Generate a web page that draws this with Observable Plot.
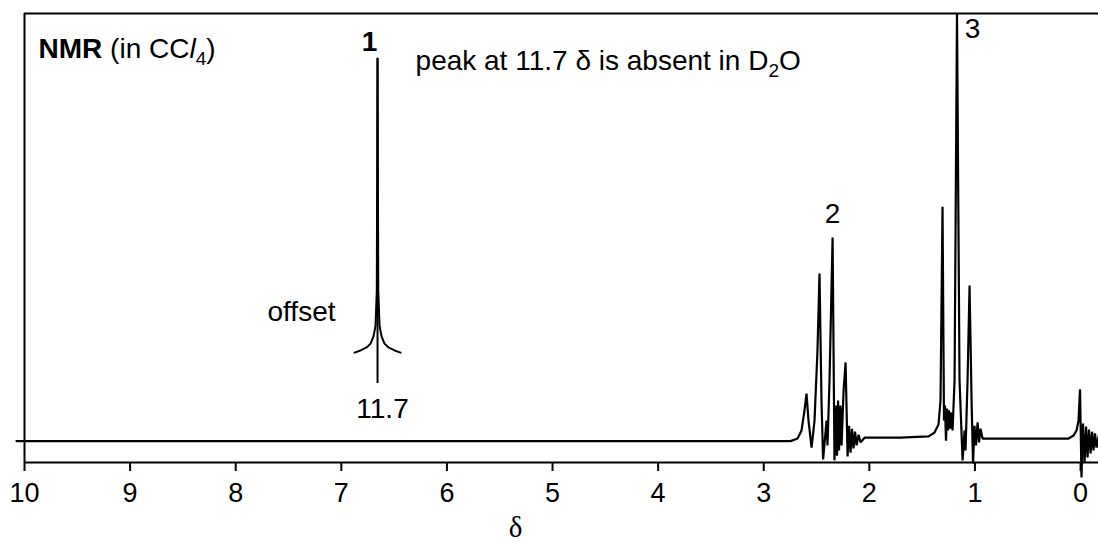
<!DOCTYPE html>
<html><head><meta charset="utf-8">
<script src="https://cdn.jsdelivr.net/npm/d3@7"></script>
<script src="https://cdn.jsdelivr.net/npm/@observablehq/plot@0.6"></script>
<style>body{margin:0;background:#fff}</style>
</head><body><div id="chart"></div>
<script>
// Chemical shift (ppm) and intensity (arbitrary units, baseline = 0, frame top = 100)
const shiftPpm = [10.076,2.746,2.680,2.642,2.614,2.595,2.576,2.547,2.519,2.491,2.472,2.453,2.438,2.405,2.396,2.377,2.348,2.330,2.315,2.306,2.296,2.287,2.273,2.263,2.244,2.225,2.206,2.192,2.178,2.164,2.150,2.135,2.121,2.102,2.083,2.045,1.705,1.439,1.383,1.345,1.326,1.307,1.293,1.284,1.274,1.265,1.255,1.246,1.236,1.227,1.212,1.193,1.170,1.146,1.117,1.098,1.089,1.070,1.051,1.032,1.018,1.004,0.990,0.975,0.961,0.947,0.928,0.758,0.114,0.066,0.038,0.019,0.005,-0.009,-0.023,-0.038,-0.052,-0.066,-0.080,-0.095,-0.109,-0.123,-0.137,-0.151,-0.170];
const intensity = [0,0,0.6,2.5,7.2,11.1,4.8,-1.5,4.8,21.2,39.2,9.5,-4.3,4.8,-1.0,14.2,47.6,-4.5,8.3,-3.4,9.5,-2.2,8.3,-1.0,11.8,18.4,-3.6,3.6,-2.7,2.9,-1.7,2.2,-1.0,1.5,-0.3,0.8,0.8,1.1,2.0,3.9,9.5,54.8,4.8,8.3,0.1,7.6,2.5,7.2,2.9,6.7,2.5,14.2,100,14.2,-4.5,2.5,-2.2,14.2,36.4,9.5,-5.2,3.6,-1.0,4.4,-0.3,2.9,0.6,0.6,0.6,1.3,2.5,4.8,12.1,-8.5,4.1,-5.0,3.4,-3.8,2.7,-2.9,2.2,-2.2,1.8,-1.5,1.1];
// Offset COOH peak (true shift 11.7, drawn offset)
const offsetPpm = [6.875,6.818,6.761,6.723,6.695,6.676,6.664,6.657,6.650,6.638,6.619,6.591,6.553,6.496,6.439];
const offsetIntensity = [20.7,21.2,21.9,22.8,24.5,27.0,35.2,89.5,35.2,27.0,24.5,22.8,21.9,21.2,20.7];
const offsetStem = {ppm: 6.657, low: 13.5, high: 89.5};
const tickValues = [10,9,8,7,6,5,4,3,2,1,0];
const axisLabel = "δ";

const spectrum = shiftPpm.map((d, i) => ({d, v: intensity[i]}));
const offsetPeak = offsetPpm.map((d, i) => ({d, v: offsetIntensity[i]}));

const sans = "'Liberation Sans', Arial, Helvetica, sans-serif";
const startLabels = [
  {text: "NMR (in CCl4)", x: 9.867, y: 89.6},
  {text: "peak at 11.7 δ is absent in D2O", x: 6.297, y: 86.9}
];
const peakNumbers = [
  {text: "1", x: 6.733, y: 91.3, bold: true},
  {text: "2", x: 2.348, y: 51.1, bold: false},
  {text: "3", x: 1.023, y: 94.2, bold: false}
];
const middleLabels = [{text: "11.7", x: 6.61, y: 5.3}];
const endLabels = [{text: "offset", x: 7.055, y: 28.2}];

const txt = {x: "x", y: "y", text: "text", fontSize: 28, lineAnchor: "bottom", fill: "black"};

const chart = Plot.plot({
  width: 1098, height: 543,
  marginLeft: 24, marginRight: 0, marginTop: 13, marginBottom: 81,
  style: {fontFamily: sans, background: "white", color: "black", overflow: "visible"},
  x: {domain: [10, -0.17]},
  y: {domain: [-5, 100], axis: null},
  marks: [
    Plot.ruleY([100], {stroke: "black", strokeWidth: 2}),
    Plot.ruleY([-5], {stroke: "black", strokeWidth: 2}),
    Plot.ruleX([10], {y1: -5, y2: 100, stroke: "black", strokeWidth: 2}),
    Plot.axisX({ticks: tickValues, tickFormat: d => String(d), tickSize: 9, tickPadding: 11, fontSize: 27, strokeWidth: 2, label: null}),
    Plot.text([axisLabel], {x: 5.35, y: -22.5, text: d => d, fontSize: 29, fontFamily: "'Liberation Serif', 'DejaVu Serif', serif", lineAnchor: "bottom", fill: "black"}),
    Plot.line(spectrum, {x: "d", y: "v", stroke: "black", strokeWidth: 2.2, strokeLinejoin: "miter"}),
    Plot.line(offsetPeak, {x: "d", y: "v", stroke: "black", strokeWidth: 2}),
    Plot.ruleX([offsetStem], {x: "ppm", y1: "low", y2: "high", stroke: "black", strokeWidth: 2}),
    Plot.text(startLabels, {...txt, textAnchor: "start"}),
    Plot.text(endLabels, {...txt, textAnchor: "end"}),
    Plot.text(middleLabels, {...txt, textAnchor: "middle"}),
    Plot.text(peakNumbers, {...txt, filter: d => d.bold, textAnchor: "middle", fontWeight: "bold"}),
    Plot.text(peakNumbers, {...txt, filter: d => !d.bold, textAnchor: "middle"})
  ]
});
document.getElementById("chart").appendChild(chart);

// Rich text: bold, italic, subscripts
const svg = d3.select(chart);
function rich(match, parts) {
  svg.selectAll("text").filter(function() { return this.textContent === match; }).each(function() {
    const t = d3.select(this);
    t.selectAll("*").remove();
    t.text(null);
    let shift = 0;
    for (const p of parts) {
      const s = t.append("tspan").text(p.t);
      if (p.w) s.attr("font-weight", p.w);
      if (p.i) s.attr("font-style", "italic");
      if (p.sub) { s.attr("font-size", 19).attr("dy", 7); shift = 7; }
      else if (shift) { s.attr("dy", -shift); shift = 0; }
    }
  });
}
rich("NMR (in CCl4)", [{t: "NMR", w: "bold"}, {t: " (in CC"}, {t: "l", i: true}, {t: "4", sub: true}, {t: ")"}]);
rich("peak at 11.7 δ is absent in D2O", [{t: "peak at 11.7 δ is absent in D"}, {t: "2", sub: true}, {t: "O"}]);
</script>
</body></html>
